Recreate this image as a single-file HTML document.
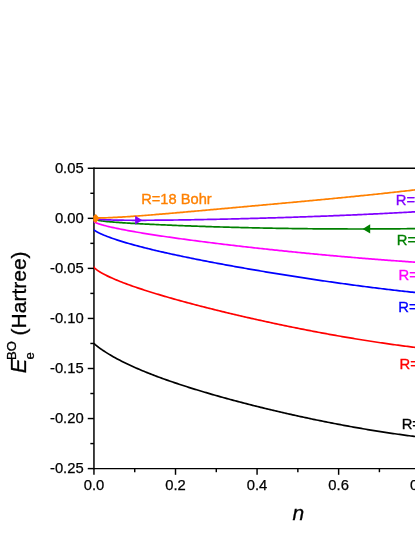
<!DOCTYPE html>
<html><head><meta charset="utf-8"><title>chart</title>
<style>html,body{margin:0;padding:0;background:#fff;}body{width:415px;height:537px;overflow:hidden;position:relative;font-family:"Liberation Sans",sans-serif;}</style>
</head><body>
<svg width="415" height="537" viewBox="0 0 415 537" style="position:absolute;left:0;top:0;will-change:transform">
<rect width="415" height="537" fill="#fff"/>
<g stroke="#000" stroke-width="1.45" fill="none">
<line x1="93.95" y1="167.54500000000002" x2="93.95" y2="469.32500000000005" stroke-width="1.5"/>
<line x1="93.95" y1="168.27" x2="420" y2="168.27"/>
<line x1="93.95" y1="468.6" x2="420" y2="468.6"/>
<line x1="87.75" y1="168.28" x2="93.95" y2="168.28"/>
<line x1="90.35" y1="193.30" x2="93.95" y2="193.30"/>
<line x1="87.75" y1="218.33" x2="93.95" y2="218.33"/>
<line x1="90.35" y1="243.36" x2="93.95" y2="243.36"/>
<line x1="87.75" y1="268.38" x2="93.95" y2="268.38"/>
<line x1="90.35" y1="293.41" x2="93.95" y2="293.41"/>
<line x1="87.75" y1="318.44" x2="93.95" y2="318.44"/>
<line x1="90.35" y1="343.47" x2="93.95" y2="343.47"/>
<line x1="87.75" y1="368.50" x2="93.95" y2="368.50"/>
<line x1="90.35" y1="393.52" x2="93.95" y2="393.52"/>
<line x1="87.75" y1="418.55" x2="93.95" y2="418.55"/>
<line x1="90.35" y1="443.58" x2="93.95" y2="443.58"/>
<line x1="87.75" y1="468.61" x2="93.95" y2="468.61"/>
<line x1="93.95" y1="468.6" x2="93.95" y2="474.80"/>
<line x1="134.73" y1="468.6" x2="134.73" y2="472.20"/>
<line x1="175.51" y1="468.6" x2="175.51" y2="474.80"/>
<line x1="216.29" y1="468.6" x2="216.29" y2="472.20"/>
<line x1="257.07" y1="468.6" x2="257.07" y2="474.80"/>
<line x1="297.85" y1="468.6" x2="297.85" y2="472.20"/>
<line x1="338.63" y1="468.6" x2="338.63" y2="474.80"/>
<line x1="379.41" y1="468.6" x2="379.41" y2="472.20"/>
<line x1="420.19" y1="468.6" x2="420.19" y2="474.80"/>
</g>
<defs><clipPath id="c"><rect x="93.45" y="168.27" width="400" height="300.33000000000004"/></clipPath></defs>
<g clip-path="url(#c)" fill="none" stroke-width="1.7" stroke-linejoin="round">
<path d="M94.00,343.49 L94.25,343.71 L94.50,343.94 L94.75,344.17 L95.00,344.39 L95.25,344.61 L95.50,344.82 L95.75,345.03 L96.00,345.24 L96.25,345.45 L96.50,345.65 L96.75,345.85 L97.00,346.05 L97.25,346.25 L97.50,346.45 L97.75,346.64 L98.00,346.84 L98.25,347.03 L98.50,347.22 L98.75,347.41 L99.00,347.59 L99.25,347.78 L99.50,347.96 L99.75,348.15 L100.00,348.33 L100.25,348.51 L100.50,348.69 L100.75,348.87 L101.00,349.05 L101.25,349.22 L101.50,349.40 L101.75,349.57 L102.00,349.74 L102.25,349.92 L102.50,350.09 L102.75,350.26 L103.00,350.43 L103.25,350.59 L103.50,350.76 L103.75,350.93 L104.00,351.09 L105.60,352.13 L107.20,353.14 L108.79,354.12 L110.39,355.07 L111.99,356.00 L113.59,356.91 L115.19,357.80 L116.78,358.67 L118.38,359.52 L119.98,360.35 L121.58,361.17 L123.18,361.97 L124.77,362.76 L126.37,363.53 L127.97,364.29 L129.57,365.04 L131.17,365.78 L132.76,366.51 L134.36,367.22 L135.96,367.93 L137.56,368.63 L139.16,369.31 L140.75,369.99 L142.35,370.66 L143.95,371.32 L145.55,371.97 L147.15,372.62 L148.74,373.25 L150.34,373.88 L151.94,374.51 L153.54,375.12 L155.14,375.73 L156.73,376.34 L158.33,376.93 L159.93,377.53 L161.53,378.11 L163.13,378.69 L164.72,379.26 L166.32,379.83 L167.92,380.40 L169.52,380.96 L171.12,381.51 L172.71,382.06 L174.31,382.61 L175.91,383.15 L177.51,383.68 L179.11,384.21 L180.70,384.74 L182.30,385.27 L183.90,385.79 L185.50,386.30 L187.10,386.81 L188.69,387.32 L190.29,387.83 L191.89,388.33 L193.49,388.83 L195.09,389.32 L196.68,389.81 L198.28,390.30 L199.88,390.78 L201.48,391.27 L203.08,391.74 L204.67,392.22 L206.27,392.69 L207.87,393.16 L209.47,393.63 L211.07,394.09 L212.66,394.56 L214.26,395.01 L215.86,395.47 L217.46,395.92 L219.06,396.38 L220.65,396.82 L222.25,397.27 L223.85,397.71 L225.45,398.16 L227.05,398.59 L228.64,399.03 L230.24,399.46 L231.84,399.90 L233.44,400.33 L235.04,400.75 L236.63,401.18 L238.23,401.60 L239.83,402.02 L241.43,402.44 L243.03,402.86 L244.62,403.27 L246.22,403.69 L247.82,404.10 L249.42,404.50 L251.02,404.91 L252.61,405.32 L254.21,405.72 L255.81,406.12 L257.41,406.52 L259.01,406.91 L260.60,407.31 L262.20,407.70 L263.80,408.09 L265.40,408.48 L266.99,408.87 L268.59,409.25 L270.19,409.64 L271.79,410.02 L273.39,410.40 L274.98,410.77 L276.58,411.15 L278.18,411.53 L279.78,411.90 L281.38,412.27 L282.97,412.64 L284.57,413.00 L286.17,413.37 L287.77,413.73 L289.37,414.09 L290.96,414.45 L292.56,414.81 L294.16,415.17 L295.76,415.52 L297.36,415.87 L298.95,416.22 L300.55,416.57 L302.15,416.92 L303.75,417.26 L305.35,417.61 L306.94,417.95 L308.54,418.29 L310.14,418.63 L311.74,418.96 L313.34,419.30 L314.93,419.63 L316.53,419.96 L318.13,420.29 L319.73,420.62 L321.33,420.94 L322.92,421.26 L324.52,421.59 L326.12,421.91 L327.72,422.22 L329.32,422.54 L330.91,422.85 L332.51,423.17 L334.11,423.48 L335.71,423.78 L337.31,424.09 L338.90,424.39 L340.50,424.70 L342.10,425.00 L343.70,425.30 L345.30,425.59 L346.89,425.89 L348.49,426.18 L350.09,426.47 L351.69,426.76 L353.29,427.05 L354.88,427.33 L356.48,427.62 L358.08,427.90 L359.68,428.18 L361.28,428.45 L362.87,428.73 L364.47,429.00 L366.07,429.27 L367.67,429.54 L369.27,429.81 L370.86,430.07 L372.46,430.33 L374.06,430.59 L375.66,430.85 L377.26,431.11 L378.85,431.36 L380.45,431.61 L382.05,431.86 L383.65,432.11 L385.25,432.36 L386.84,432.60 L388.44,432.84 L390.04,433.08 L391.64,433.31 L393.24,433.55 L394.83,433.78 L396.43,434.01 L398.03,434.24 L399.63,434.46 L401.23,434.68 L402.82,434.90 L404.42,435.12 L406.02,435.34 L407.62,435.55 L409.22,435.76 L410.81,435.97 L412.41,436.18 L414.01,436.38 L415.61,436.58 L417.21,436.78 L418.80,436.97 L420.40,437.17 L422.00,437.36" stroke="#000000"/>
<path d="M94.00,266.59 L94.25,267.33 L94.50,267.70 L94.75,268.01 L95.00,268.28 L95.25,268.53 L95.50,268.77 L95.75,268.99 L96.00,269.21 L96.25,269.41 L96.50,269.61 L96.75,269.81 L97.00,270.00 L97.25,270.18 L97.50,270.36 L97.75,270.54 L98.00,270.71 L98.25,270.88 L98.50,271.05 L98.75,271.21 L99.00,271.37 L99.25,271.53 L99.50,271.69 L99.75,271.85 L100.00,272.00 L100.25,272.15 L100.50,272.30 L100.75,272.45 L101.00,272.60 L101.25,272.74 L101.50,272.89 L101.75,273.03 L102.00,273.17 L102.25,273.31 L102.50,273.45 L102.75,273.58 L103.00,273.72 L103.25,273.86 L103.50,273.99 L103.75,274.12 L104.00,274.25 L105.60,275.08 L107.20,275.87 L108.79,276.63 L110.39,277.37 L111.99,278.09 L113.59,278.79 L115.19,279.47 L116.78,280.14 L118.38,280.79 L119.98,281.43 L121.58,282.06 L123.18,282.67 L124.77,283.28 L126.37,283.88 L127.97,284.46 L129.57,285.04 L131.17,285.62 L132.76,286.18 L134.36,286.74 L135.96,287.29 L137.56,287.83 L139.16,288.37 L140.75,288.90 L142.35,289.43 L143.95,289.95 L145.55,290.47 L147.15,290.98 L148.74,291.48 L150.34,291.99 L151.94,292.48 L153.54,292.98 L155.14,293.47 L156.73,293.95 L158.33,294.43 L159.93,294.91 L161.53,295.39 L163.13,295.86 L164.72,296.33 L166.32,296.79 L167.92,297.25 L169.52,297.71 L171.12,298.17 L172.71,298.62 L174.31,299.07 L175.91,299.52 L177.51,299.96 L179.11,300.41 L180.70,300.85 L182.30,301.28 L183.90,301.72 L185.50,302.15 L187.10,302.58 L188.69,303.01 L190.29,303.44 L191.89,303.86 L193.49,304.28 L195.09,304.70 L196.68,305.12 L198.28,305.54 L199.88,305.95 L201.48,306.36 L203.08,306.77 L204.67,307.18 L206.27,307.59 L207.87,307.99 L209.47,308.39 L211.07,308.80 L212.66,309.19 L214.26,309.59 L215.86,309.99 L217.46,310.38 L219.06,310.77 L220.65,311.17 L222.25,311.55 L223.85,311.94 L225.45,312.33 L227.05,312.71 L228.64,313.10 L230.24,313.48 L231.84,313.86 L233.44,314.24 L235.04,314.61 L236.63,314.99 L238.23,315.36 L239.83,315.73 L241.43,316.10 L243.03,316.47 L244.62,316.84 L246.22,317.21 L247.82,317.57 L249.42,317.94 L251.02,318.30 L252.61,318.66 L254.21,319.02 L255.81,319.38 L257.41,319.73 L259.01,320.09 L260.60,320.44 L262.20,320.79 L263.80,321.14 L265.40,321.49 L266.99,321.84 L268.59,322.19 L270.19,322.53 L271.79,322.88 L273.39,323.22 L274.98,323.56 L276.58,323.90 L278.18,324.24 L279.78,324.57 L281.38,324.91 L282.97,325.24 L284.57,325.58 L286.17,325.91 L287.77,326.24 L289.37,326.56 L290.96,326.89 L292.56,327.22 L294.16,327.54 L295.76,327.86 L297.36,328.18 L298.95,328.50 L300.55,328.82 L302.15,329.14 L303.75,329.45 L305.35,329.77 L306.94,330.08 L308.54,330.39 L310.14,330.70 L311.74,331.01 L313.34,331.31 L314.93,331.62 L316.53,331.92 L318.13,332.22 L319.73,332.52 L321.33,332.82 L322.92,333.12 L324.52,333.41 L326.12,333.71 L327.72,334.00 L329.32,334.29 L330.91,334.58 L332.51,334.87 L334.11,335.15 L335.71,335.44 L337.31,335.72 L338.90,336.00 L340.50,336.28 L342.10,336.56 L343.70,336.84 L345.30,337.11 L346.89,337.38 L348.49,337.66 L350.09,337.93 L351.69,338.19 L353.29,338.46 L354.88,338.72 L356.48,338.99 L358.08,339.25 L359.68,339.51 L361.28,339.77 L362.87,340.02 L364.47,340.28 L366.07,340.53 L367.67,340.78 L369.27,341.03 L370.86,341.28 L372.46,341.52 L374.06,341.77 L375.66,342.01 L377.26,342.25 L378.85,342.49 L380.45,342.73 L382.05,342.96 L383.65,343.19 L385.25,343.42 L386.84,343.65 L388.44,343.88 L390.04,344.11 L391.64,344.33 L393.24,344.55 L394.83,344.77 L396.43,344.99 L398.03,345.20 L399.63,345.42 L401.23,345.63 L402.82,345.84 L404.42,346.05 L406.02,346.25 L407.62,346.46 L409.22,346.66 L410.81,346.86 L412.41,347.06 L414.01,347.25 L415.61,347.45 L417.21,347.64 L418.80,347.83 L420.40,348.02 L422.00,348.20" stroke="#FF0000"/>
<path d="M94.00,229.57 L94.25,230.00 L94.50,230.24 L94.75,230.44 L95.00,230.63 L95.25,230.81 L95.50,230.97 L95.75,231.14 L96.00,231.29 L96.25,231.44 L96.50,231.59 L96.75,231.73 L97.00,231.88 L97.25,232.01 L97.50,232.15 L97.75,232.28 L98.00,232.41 L98.25,232.54 L98.50,232.67 L98.75,232.80 L99.00,232.92 L99.25,233.04 L99.50,233.17 L99.75,233.29 L100.00,233.41 L100.25,233.52 L100.50,233.64 L100.75,233.75 L101.00,233.87 L101.25,233.98 L101.50,234.09 L101.75,234.21 L102.00,234.32 L102.25,234.43 L102.50,234.53 L102.75,234.64 L103.00,234.75 L103.25,234.86 L103.50,234.96 L103.75,235.07 L104.00,235.17 L105.60,235.82 L107.20,236.45 L108.79,237.05 L110.39,237.64 L111.99,238.21 L113.59,238.77 L115.19,239.31 L116.78,239.84 L118.38,240.36 L119.98,240.87 L121.58,241.37 L123.18,241.86 L124.77,242.34 L126.37,242.82 L127.97,243.28 L129.57,243.74 L131.17,244.19 L132.76,244.64 L134.36,245.08 L135.96,245.51 L137.56,245.94 L139.16,246.36 L140.75,246.78 L142.35,247.19 L143.95,247.60 L145.55,248.00 L147.15,248.40 L148.74,248.80 L150.34,249.19 L151.94,249.58 L153.54,249.96 L155.14,250.34 L156.73,250.72 L158.33,251.10 L159.93,251.47 L161.53,251.83 L163.13,252.20 L164.72,252.56 L166.32,252.92 L167.92,253.28 L169.52,253.63 L171.12,253.98 L172.71,254.33 L174.31,254.68 L175.91,255.02 L177.51,255.36 L179.11,255.70 L180.70,256.04 L182.30,256.38 L183.90,256.71 L185.50,257.04 L187.10,257.37 L188.69,257.70 L190.29,258.02 L191.89,258.35 L193.49,258.67 L195.09,258.99 L196.68,259.31 L198.28,259.63 L199.88,259.94 L201.48,260.26 L203.08,260.57 L204.67,260.88 L206.27,261.19 L207.87,261.50 L209.47,261.80 L211.07,262.11 L212.66,262.41 L214.26,262.72 L215.86,263.02 L217.46,263.32 L219.06,263.62 L220.65,263.91 L222.25,264.21 L223.85,264.51 L225.45,264.80 L227.05,265.09 L228.64,265.38 L230.24,265.67 L231.84,265.96 L233.44,266.25 L235.04,266.54 L236.63,266.82 L238.23,267.11 L239.83,267.39 L241.43,267.67 L243.03,267.96 L244.62,268.24 L246.22,268.51 L247.82,268.79 L249.42,269.07 L251.02,269.35 L252.61,269.62 L254.21,269.90 L255.81,270.17 L257.41,270.44 L259.01,270.71 L260.60,270.98 L262.20,271.25 L263.80,271.52 L265.40,271.79 L266.99,272.06 L268.59,272.32 L270.19,272.59 L271.79,272.85 L273.39,273.11 L274.98,273.37 L276.58,273.63 L278.18,273.89 L279.78,274.15 L281.38,274.41 L282.97,274.67 L284.57,274.92 L286.17,275.18 L287.77,275.43 L289.37,275.69 L290.96,275.94 L292.56,276.19 L294.16,276.44 L295.76,276.69 L297.36,276.94 L298.95,277.19 L300.55,277.44 L302.15,277.68 L303.75,277.93 L305.35,278.17 L306.94,278.41 L308.54,278.66 L310.14,278.90 L311.74,279.14 L313.34,279.38 L314.93,279.62 L316.53,279.85 L318.13,280.09 L319.73,280.33 L321.33,280.56 L322.92,280.79 L324.52,281.03 L326.12,281.26 L327.72,281.49 L329.32,281.72 L330.91,281.95 L332.51,282.18 L334.11,282.40 L335.71,282.63 L337.31,282.85 L338.90,283.08 L340.50,283.30 L342.10,283.52 L343.70,283.74 L345.30,283.96 L346.89,284.18 L348.49,284.40 L350.09,284.62 L351.69,284.83 L353.29,285.05 L354.88,285.26 L356.48,285.47 L358.08,285.69 L359.68,285.90 L361.28,286.11 L362.87,286.31 L364.47,286.52 L366.07,286.73 L367.67,286.93 L369.27,287.14 L370.86,287.34 L372.46,287.54 L374.06,287.74 L375.66,287.94 L377.26,288.14 L378.85,288.34 L380.45,288.53 L382.05,288.73 L383.65,288.92 L385.25,289.11 L386.84,289.30 L388.44,289.49 L390.04,289.68 L391.64,289.87 L393.24,290.06 L394.83,290.24 L396.43,290.43 L398.03,290.61 L399.63,290.79 L401.23,290.97 L402.82,291.15 L404.42,291.33 L406.02,291.51 L407.62,291.68 L409.22,291.86 L410.81,292.03 L412.41,292.20 L414.01,292.37 L415.61,292.54 L417.21,292.71 L418.80,292.87 L420.40,293.04 L422.00,293.20" stroke="#0000FF"/>
<path d="M94.00,221.39 L94.25,221.80 L94.50,222.00 L94.75,222.16 L95.00,222.31 L95.25,222.44 L95.50,222.56 L95.75,222.68 L96.00,222.79 L96.25,222.90 L96.50,223.00 L96.75,223.10 L97.00,223.20 L97.25,223.30 L97.50,223.39 L97.75,223.48 L98.00,223.57 L98.25,223.66 L98.50,223.74 L98.75,223.83 L99.00,223.91 L99.25,223.99 L99.50,224.07 L99.75,224.15 L100.00,224.23 L100.25,224.31 L100.50,224.38 L100.75,224.46 L101.00,224.53 L101.25,224.61 L101.50,224.68 L101.75,224.75 L102.00,224.82 L102.25,224.90 L102.50,224.97 L102.75,225.04 L103.00,225.11 L103.25,225.17 L103.50,225.24 L103.75,225.31 L104.00,225.38 L105.60,225.79 L107.20,226.20 L108.79,226.58 L110.39,226.96 L111.99,227.32 L113.59,227.67 L115.19,228.02 L116.78,228.36 L118.38,228.69 L119.98,229.01 L121.58,229.33 L123.18,229.64 L124.77,229.94 L126.37,230.25 L127.97,230.54 L129.57,230.83 L131.17,231.12 L132.76,231.41 L134.36,231.69 L135.96,231.97 L137.56,232.24 L139.16,232.51 L140.75,232.78 L142.35,233.04 L143.95,233.31 L145.55,233.57 L147.15,233.82 L148.74,234.08 L150.34,234.33 L151.94,234.58 L153.54,234.83 L155.14,235.08 L156.73,235.32 L158.33,235.56 L159.93,235.80 L161.53,236.04 L163.13,236.28 L164.72,236.51 L166.32,236.74 L167.92,236.97 L169.52,237.20 L171.12,237.43 L172.71,237.66 L174.31,237.89 L175.91,238.11 L177.51,238.33 L179.11,238.55 L180.70,238.77 L182.30,238.99 L183.90,239.21 L185.50,239.42 L187.10,239.64 L188.69,239.85 L190.29,240.07 L191.89,240.28 L193.49,240.49 L195.09,240.70 L196.68,240.90 L198.28,241.11 L199.88,241.32 L201.48,241.52 L203.08,241.73 L204.67,241.93 L206.27,242.13 L207.87,242.33 L209.47,242.53 L211.07,242.73 L212.66,242.93 L214.26,243.13 L215.86,243.32 L217.46,243.52 L219.06,243.72 L220.65,243.91 L222.25,244.10 L223.85,244.29 L225.45,244.49 L227.05,244.68 L228.64,244.87 L230.24,245.06 L231.84,245.24 L233.44,245.43 L235.04,245.62 L236.63,245.80 L238.23,245.99 L239.83,246.17 L241.43,246.36 L243.03,246.54 L244.62,246.72 L246.22,246.90 L247.82,247.08 L249.42,247.26 L251.02,247.44 L252.61,247.62 L254.21,247.80 L255.81,247.98 L257.41,248.15 L259.01,248.33 L260.60,248.50 L262.20,248.68 L263.80,248.85 L265.40,249.02 L266.99,249.20 L268.59,249.37 L270.19,249.54 L271.79,249.71 L273.39,249.88 L274.98,250.05 L276.58,250.22 L278.18,250.38 L279.78,250.55 L281.38,250.72 L282.97,250.88 L284.57,251.05 L286.17,251.21 L287.77,251.37 L289.37,251.54 L290.96,251.70 L292.56,251.86 L294.16,252.02 L295.76,252.18 L297.36,252.34 L298.95,252.50 L300.55,252.66 L302.15,252.81 L303.75,252.97 L305.35,253.13 L306.94,253.28 L308.54,253.44 L310.14,253.59 L311.74,253.74 L313.34,253.90 L314.93,254.05 L316.53,254.20 L318.13,254.35 L319.73,254.50 L321.33,254.65 L322.92,254.80 L324.52,254.95 L326.12,255.10 L327.72,255.24 L329.32,255.39 L330.91,255.53 L332.51,255.68 L334.11,255.82 L335.71,255.97 L337.31,256.11 L338.90,256.25 L340.50,256.39 L342.10,256.53 L343.70,256.67 L345.30,256.81 L346.89,256.95 L348.49,257.09 L350.09,257.22 L351.69,257.36 L353.29,257.50 L354.88,257.63 L356.48,257.77 L358.08,257.90 L359.68,258.03 L361.28,258.16 L362.87,258.30 L364.47,258.43 L366.07,258.56 L367.67,258.68 L369.27,258.81 L370.86,258.94 L372.46,259.07 L374.06,259.19 L375.66,259.32 L377.26,259.44 L378.85,259.57 L380.45,259.69 L382.05,259.81 L383.65,259.94 L385.25,260.06 L386.84,260.18 L388.44,260.30 L390.04,260.42 L391.64,260.53 L393.24,260.65 L394.83,260.77 L396.43,260.88 L398.03,261.00 L399.63,261.11 L401.23,261.22 L402.82,261.34 L404.42,261.45 L406.02,261.56 L407.62,261.67 L409.22,261.78 L410.81,261.89 L412.41,262.00 L414.01,262.10 L415.61,262.21 L417.21,262.31 L418.80,262.42 L420.40,262.52 L422.00,262.62" stroke="#FF00FF"/>
<path d="M94.00,218.31 L94.25,218.86 L94.50,219.08 L94.75,219.24 L95.00,219.37 L95.25,219.48 L95.50,219.58 L95.75,219.67 L96.00,219.76 L96.25,219.83 L96.50,219.91 L96.75,219.97 L97.00,220.04 L97.25,220.10 L97.50,220.16 L97.75,220.21 L98.00,220.27 L98.25,220.32 L98.50,220.37 L98.75,220.42 L99.00,220.46 L99.25,220.51 L99.50,220.55 L99.75,220.59 L100.00,220.64 L100.25,220.68 L100.50,220.71 L100.75,220.75 L101.00,220.79 L101.25,220.83 L101.50,220.86 L101.75,220.90 L102.00,220.93 L102.25,220.97 L102.50,221.00 L102.75,221.03 L103.00,221.06 L103.25,221.10 L103.50,221.13 L103.75,221.16 L104.00,221.19 L105.60,221.37 L107.20,221.54 L108.79,221.69 L110.39,221.84 L111.99,221.97 L113.59,222.11 L115.19,222.23 L116.78,222.35 L118.38,222.47 L119.98,222.58 L121.58,222.69 L123.18,222.80 L124.77,222.90 L126.37,223.00 L127.97,223.10 L129.57,223.19 L131.17,223.29 L132.76,223.38 L134.36,223.47 L135.96,223.56 L137.56,223.64 L139.16,223.73 L140.75,223.81 L142.35,223.90 L143.95,223.98 L145.55,224.06 L147.15,224.14 L148.74,224.22 L150.34,224.30 L151.94,224.37 L153.54,224.45 L155.14,224.52 L156.73,224.60 L158.33,224.67 L159.93,224.74 L161.53,224.81 L163.13,224.88 L164.72,224.95 L166.32,225.02 L167.92,225.09 L169.52,225.16 L171.12,225.22 L172.71,225.29 L174.31,225.36 L175.91,225.42 L177.51,225.48 L179.11,225.55 L180.70,225.61 L182.30,225.67 L183.90,225.73 L185.50,225.79 L187.10,225.85 L188.69,225.91 L190.29,225.97 L191.89,226.03 L193.49,226.09 L195.09,226.14 L196.68,226.20 L198.28,226.26 L199.88,226.31 L201.48,226.37 L203.08,226.42 L204.67,226.47 L206.27,226.53 L207.87,226.58 L209.47,226.63 L211.07,226.68 L212.66,226.73 L214.26,226.78 L215.86,226.83 L217.46,226.88 L219.06,226.93 L220.65,226.98 L222.25,227.02 L223.85,227.07 L225.45,227.12 L227.05,227.16 L228.64,227.21 L230.24,227.25 L231.84,227.29 L233.44,227.34 L235.04,227.38 L236.63,227.42 L238.23,227.46 L239.83,227.50 L241.43,227.54 L243.03,227.58 L244.62,227.62 L246.22,227.66 L247.82,227.70 L249.42,227.74 L251.02,227.77 L252.61,227.81 L254.21,227.85 L255.81,227.88 L257.41,227.92 L259.01,227.95 L260.60,227.98 L262.20,228.02 L263.80,228.05 L265.40,228.08 L266.99,228.11 L268.59,228.14 L270.19,228.17 L271.79,228.20 L273.39,228.23 L274.98,228.26 L276.58,228.29 L278.18,228.32 L279.78,228.34 L281.38,228.37 L282.97,228.40 L284.57,228.42 L286.17,228.45 L287.77,228.47 L289.37,228.49 L290.96,228.52 L292.56,228.54 L294.16,228.56 L295.76,228.58 L297.36,228.60 L298.95,228.62 L300.55,228.64 L302.15,228.66 L303.75,228.68 L305.35,228.70 L306.94,228.72 L308.54,228.73 L310.14,228.75 L311.74,228.76 L313.34,228.78 L314.93,228.79 L316.53,228.81 L318.13,228.82 L319.73,228.84 L321.33,228.85 L322.92,228.86 L324.52,228.87 L326.12,228.88 L327.72,228.89 L329.32,228.90 L330.91,228.91 L332.51,228.92 L334.11,228.93 L335.71,228.94 L337.31,228.94 L338.90,228.95 L340.50,228.95 L342.10,228.96 L343.70,228.96 L345.30,228.97 L346.89,228.97 L348.49,228.98 L350.09,228.98 L351.69,228.98 L353.29,228.98 L354.88,228.98 L356.48,228.98 L358.08,228.98 L359.68,228.98 L361.28,228.98 L362.87,228.98 L364.47,228.98 L366.07,228.97 L367.67,228.97 L369.27,228.97 L370.86,228.96 L372.46,228.96 L374.06,228.95 L375.66,228.95 L377.26,228.94 L378.85,228.93 L380.45,228.92 L382.05,228.92 L383.65,228.91 L385.25,228.90 L386.84,228.89 L388.44,228.88 L390.04,228.87 L391.64,228.85 L393.24,228.84 L394.83,228.83 L396.43,228.82 L398.03,228.80 L399.63,228.79 L401.23,228.77 L402.82,228.76 L404.42,228.74 L406.02,228.73 L407.62,228.71 L409.22,228.69 L410.81,228.67 L412.41,228.66 L414.01,228.64 L415.61,228.62 L417.21,228.60 L418.80,228.58 L420.40,228.56 L422.00,228.53" stroke="#008000"/>
<path d="M94.00,218.33 L94.25,218.57 L94.50,218.67 L94.75,218.75 L95.00,218.81 L95.25,218.86 L95.50,218.91 L95.75,218.96 L96.00,219.00 L96.25,219.04 L96.50,219.07 L96.75,219.11 L97.00,219.14 L97.25,219.17 L97.50,219.20 L97.75,219.23 L98.00,219.25 L98.25,219.28 L98.50,219.30 L98.75,219.33 L99.00,219.35 L99.25,219.37 L99.50,219.39 L99.75,219.41 L100.00,219.43 L100.25,219.45 L100.50,219.47 L100.75,219.49 L101.00,219.51 L101.25,219.52 L101.50,219.54 L101.75,219.56 L102.00,219.57 L102.25,219.59 L102.50,219.60 L102.75,219.62 L103.00,219.63 L103.25,219.65 L103.50,219.66 L103.75,219.68 L104.00,219.69 L105.60,219.77 L107.20,219.84 L108.79,219.90 L110.39,219.95 L111.99,220.00 L113.59,220.04 L115.19,220.08 L116.78,220.11 L118.38,220.14 L119.98,220.17 L121.58,220.19 L123.18,220.21 L124.77,220.23 L126.37,220.24 L127.97,220.25 L129.57,220.27 L131.17,220.27 L132.76,220.28 L134.36,220.28 L135.96,220.29 L137.56,220.29 L139.16,220.29 L140.75,220.29 L142.35,220.29 L143.95,220.28 L145.55,220.28 L147.15,220.27 L148.74,220.26 L150.34,220.25 L151.94,220.24 L153.54,220.23 L155.14,220.22 L156.73,220.21 L158.33,220.20 L159.93,220.18 L161.53,220.17 L163.13,220.15 L164.72,220.13 L166.32,220.12 L167.92,220.10 L169.52,220.08 L171.12,220.06 L172.71,220.04 L174.31,220.02 L175.91,220.00 L177.51,219.98 L179.11,219.95 L180.70,219.93 L182.30,219.91 L183.90,219.88 L185.50,219.86 L187.10,219.83 L188.69,219.81 L190.29,219.78 L191.89,219.75 L193.49,219.73 L195.09,219.70 L196.68,219.67 L198.28,219.64 L199.88,219.61 L201.48,219.58 L203.08,219.55 L204.67,219.52 L206.27,219.49 L207.87,219.46 L209.47,219.43 L211.07,219.39 L212.66,219.36 L214.26,219.33 L215.86,219.30 L217.46,219.26 L219.06,219.23 L220.65,219.19 L222.25,219.16 L223.85,219.12 L225.45,219.09 L227.05,219.05 L228.64,219.01 L230.24,218.98 L231.84,218.94 L233.44,218.90 L235.04,218.86 L236.63,218.82 L238.23,218.78 L239.83,218.75 L241.43,218.71 L243.03,218.67 L244.62,218.62 L246.22,218.58 L247.82,218.54 L249.42,218.50 L251.02,218.46 L252.61,218.42 L254.21,218.37 L255.81,218.33 L257.41,218.29 L259.01,218.24 L260.60,218.20 L262.20,218.15 L263.80,218.11 L265.40,218.06 L266.99,218.02 L268.59,217.97 L270.19,217.92 L271.79,217.88 L273.39,217.83 L274.98,217.78 L276.58,217.73 L278.18,217.69 L279.78,217.64 L281.38,217.59 L282.97,217.54 L284.57,217.49 L286.17,217.44 L287.77,217.39 L289.37,217.33 L290.96,217.28 L292.56,217.23 L294.16,217.18 L295.76,217.13 L297.36,217.07 L298.95,217.02 L300.55,216.96 L302.15,216.91 L303.75,216.85 L305.35,216.80 L306.94,216.74 L308.54,216.69 L310.14,216.63 L311.74,216.57 L313.34,216.51 L314.93,216.46 L316.53,216.40 L318.13,216.34 L319.73,216.28 L321.33,216.22 L322.92,216.16 L324.52,216.10 L326.12,216.04 L327.72,215.98 L329.32,215.91 L330.91,215.85 L332.51,215.79 L334.11,215.72 L335.71,215.66 L337.31,215.59 L338.90,215.53 L340.50,215.46 L342.10,215.40 L343.70,215.33 L345.30,215.26 L346.89,215.20 L348.49,215.13 L350.09,215.06 L351.69,214.99 L353.29,214.92 L354.88,214.85 L356.48,214.78 L358.08,214.71 L359.68,214.64 L361.28,214.57 L362.87,214.49 L364.47,214.42 L366.07,214.35 L367.67,214.27 L369.27,214.20 L370.86,214.12 L372.46,214.05 L374.06,213.97 L375.66,213.89 L377.26,213.82 L378.85,213.74 L380.45,213.66 L382.05,213.58 L383.65,213.50 L385.25,213.42 L386.84,213.34 L388.44,213.26 L390.04,213.18 L391.64,213.09 L393.24,213.01 L394.83,212.93 L396.43,212.84 L398.03,212.76 L399.63,212.67 L401.23,212.59 L402.82,212.50 L404.42,212.41 L406.02,212.32 L407.62,212.23 L409.22,212.15 L410.81,212.06 L412.41,211.96 L414.01,211.87 L415.61,211.78 L417.21,211.69 L418.80,211.60 L420.40,211.50 L422.00,211.41" stroke="#8000FF"/>
<path d="M94.00,218.30 L94.25,218.16 L94.50,218.12 L94.75,218.09 L95.00,218.07 L95.25,218.06 L95.50,218.05 L95.75,218.04 L96.00,218.03 L96.25,218.02 L96.50,218.01 L96.75,218.00 L97.00,218.00 L97.25,217.99 L97.50,217.99 L97.75,217.98 L98.00,217.98 L98.25,217.97 L98.50,217.97 L98.75,217.96 L99.00,217.96 L99.25,217.95 L99.50,217.95 L99.75,217.94 L100.00,217.94 L100.25,217.93 L100.50,217.92 L100.75,217.92 L101.00,217.91 L101.25,217.91 L101.50,217.90 L101.75,217.90 L102.00,217.89 L102.25,217.88 L102.50,217.88 L102.75,217.87 L103.00,217.86 L103.25,217.86 L103.50,217.85 L103.75,217.84 L104.00,217.84 L105.60,217.79 L107.20,217.73 L108.79,217.67 L110.39,217.61 L111.99,217.54 L113.59,217.47 L115.19,217.39 L116.78,217.31 L118.38,217.22 L119.98,217.13 L121.58,217.04 L123.18,216.94 L124.77,216.85 L126.37,216.75 L127.97,216.64 L129.57,216.54 L131.17,216.43 L132.76,216.32 L134.36,216.21 L135.96,216.09 L137.56,215.98 L139.16,215.86 L140.75,215.74 L142.35,215.62 L143.95,215.50 L145.55,215.37 L147.15,215.25 L148.74,215.12 L150.34,214.99 L151.94,214.87 L153.54,214.74 L155.14,214.61 L156.73,214.47 L158.33,214.34 L159.93,214.21 L161.53,214.08 L163.13,213.94 L164.72,213.81 L166.32,213.67 L167.92,213.53 L169.52,213.40 L171.12,213.26 L172.71,213.12 L174.31,212.98 L175.91,212.85 L177.51,212.71 L179.11,212.57 L180.70,212.43 L182.30,212.29 L183.90,212.15 L185.50,212.00 L187.10,211.86 L188.69,211.72 L190.29,211.58 L191.89,211.44 L193.49,211.30 L195.09,211.15 L196.68,211.01 L198.28,210.87 L199.88,210.73 L201.48,210.58 L203.08,210.44 L204.67,210.30 L206.27,210.15 L207.87,210.01 L209.47,209.87 L211.07,209.72 L212.66,209.58 L214.26,209.44 L215.86,209.29 L217.46,209.15 L219.06,209.00 L220.65,208.86 L222.25,208.72 L223.85,208.57 L225.45,208.43 L227.05,208.28 L228.64,208.14 L230.24,208.00 L231.84,207.85 L233.44,207.71 L235.04,207.56 L236.63,207.42 L238.23,207.27 L239.83,207.13 L241.43,206.98 L243.03,206.84 L244.62,206.70 L246.22,206.55 L247.82,206.41 L249.42,206.26 L251.02,206.12 L252.61,205.97 L254.21,205.83 L255.81,205.68 L257.41,205.54 L259.01,205.39 L260.60,205.25 L262.20,205.10 L263.80,204.96 L265.40,204.81 L266.99,204.67 L268.59,204.52 L270.19,204.38 L271.79,204.23 L273.39,204.09 L274.98,203.94 L276.58,203.79 L278.18,203.65 L279.78,203.50 L281.38,203.36 L282.97,203.21 L284.57,203.06 L286.17,202.92 L287.77,202.77 L289.37,202.62 L290.96,202.48 L292.56,202.33 L294.16,202.18 L295.76,202.03 L297.36,201.89 L298.95,201.74 L300.55,201.59 L302.15,201.44 L303.75,201.29 L305.35,201.14 L306.94,201.00 L308.54,200.85 L310.14,200.70 L311.74,200.55 L313.34,200.40 L314.93,200.25 L316.53,200.10 L318.13,199.95 L319.73,199.79 L321.33,199.64 L322.92,199.49 L324.52,199.34 L326.12,199.19 L327.72,199.03 L329.32,198.88 L330.91,198.73 L332.51,198.57 L334.11,198.42 L335.71,198.26 L337.31,198.11 L338.90,197.95 L340.50,197.80 L342.10,197.64 L343.70,197.48 L345.30,197.33 L346.89,197.17 L348.49,197.01 L350.09,196.85 L351.69,196.69 L353.29,196.53 L354.88,196.37 L356.48,196.21 L358.08,196.05 L359.68,195.89 L361.28,195.72 L362.87,195.56 L364.47,195.40 L366.07,195.23 L367.67,195.07 L369.27,194.90 L370.86,194.74 L372.46,194.57 L374.06,194.40 L375.66,194.24 L377.26,194.07 L378.85,193.90 L380.45,193.73 L382.05,193.56 L383.65,193.39 L385.25,193.21 L386.84,193.04 L388.44,192.87 L390.04,192.69 L391.64,192.52 L393.24,192.34 L394.83,192.17 L396.43,191.99 L398.03,191.81 L399.63,191.63 L401.23,191.45 L402.82,191.27 L404.42,191.09 L406.02,190.91 L407.62,190.73 L409.22,190.54 L410.81,190.36 L412.41,190.17 L414.01,189.98 L415.61,189.80 L417.21,189.61 L418.80,189.42 L420.40,189.23 L422.00,189.04" stroke="#FF8000"/>
</g>
<polygon points="93.3,216.2 95.8,214.0 99.5,218.25 95.8,222.9 93.3,221.0" fill="#FF8000"/>
<polygon points="135.1,215.7 142.4,220.2 135.1,224.6" fill="#8000FF"/>
<polygon points="370.2,224.3 362.6,229.0 370.2,233.5" fill="#008000"/>
<g font-family="Liberation Sans, sans-serif" font-size="14.8" fill="#000" stroke="#000" stroke-width="0.25">
<text x="83.7" y="172.88" text-anchor="end">0.05</text>
<text x="83.7" y="222.93" text-anchor="end">0.00</text>
<text x="83.7" y="272.99" text-anchor="end">-0.05</text>
<text x="83.7" y="323.04" text-anchor="end">-0.10</text>
<text x="83.7" y="373.10" text-anchor="end">-0.15</text>
<text x="83.7" y="423.15" text-anchor="end">-0.20</text>
<text x="83.7" y="473.21" text-anchor="end">-0.25</text>
<text x="93.95" y="489.8" text-anchor="middle">0.0</text>
<text x="175.51" y="489.8" text-anchor="middle">0.2</text>
<text x="257.07" y="489.8" text-anchor="middle">0.4</text>
<text x="338.63" y="489.8" text-anchor="middle">0.6</text>
<text x="420.19" y="489.8" text-anchor="middle">0.8</text>
</g>
<g font-family="Liberation Sans, sans-serif" font-size="14.8" stroke-width="0.35">
<text x="141.2" y="204.0" fill="#FF8000" stroke="#FF8000" textLength="70.5" lengthAdjust="spacingAndGlyphs">R=18 Bohr</text>
<text x="395.8" y="205.3" fill="#8000FF" stroke="#8000FF">R=16 Bohr</text>
<text x="396.8" y="244.7" fill="#008000" stroke="#008000">R=14 Bohr</text>
<text x="398.6" y="279.7" fill="#FF00FF" stroke="#FF00FF">R=12 Bohr</text>
<text x="398.3" y="311.6" fill="#0000FF" stroke="#0000FF">R=10 Bohr</text>
<text x="399.6" y="369.0" fill="#FF0000" stroke="#FF0000">R=6 Bohr</text>
<text x="401.7" y="429.2" fill="#000" stroke="#000">R=2 Bohr</text>
</g>
<text x="298.3" y="519.6" font-family="Liberation Sans, sans-serif" font-size="21" font-style="italic" text-anchor="middle" stroke="#000" stroke-width="0.3">n</text>
<g transform="translate(26.3,373.2) rotate(-90)" font-family="Liberation Sans, sans-serif" fill="#000" stroke="#000" stroke-width="0.3">
<text x="0" y="0" font-size="21.6" font-style="italic">E</text>
<text x="13.3" y="-10.2" font-size="13">BO</text>
<text x="13.6" y="7.6" font-size="13">e</text>
<text x="37.8" y="0" font-size="21">(Hartree)</text>
</g>
</svg>
</body></html>
